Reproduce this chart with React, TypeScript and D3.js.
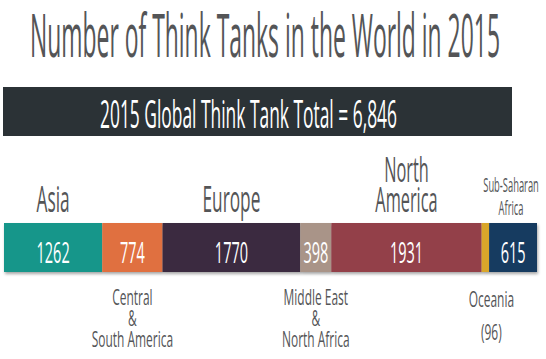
import React, {useEffect, useRef} from 'react';
import * as d3 from 'd3';

// regions in the order they sit on the bar
const regions: string[] = ["Asia", "Central & South America", "Europe", "Middle East & North Africa", "North America", "Oceania", "Sub-Saharan Africa"];
const counts: number[] = [1262, 774, 1770, 398, 1931, 96, 615];
const colors: string[] = ["#17968a", "#e0703f", "#3a2a40", "#a99488", "#93404a", "#d9a62a", "#163a60"];
// label lines, and whether they go above or below the bar
const labelLines: string[][] = [["Asia"], ["Central", "&", "South America"], ["Europe"], ["Middle East", "&", "North Africa"], ["North", "America"], ["Oceania", "(96)"], ["Sub-Saharan", "Africa"]];
const labelSide: string[] = ["above", "below", "above", "below", "above", "below", "above"];
const showValue: boolean[] = [true, true, true, true, true, false, true];

const title = "Number of Think Tanks in the World in 2015";
const total = d3.sum(counts);
const banner = `2015 Global Think Tank Total = ${d3.format(",")(total)}`;

const App = () => {
  const ref = useRef<SVGSVGElement>(null);

  useEffect(() => {
    drawChart();
    return () => {
      d3.select(ref.current).selectAll("*").remove();
    };
  }, []);

  const drawChart = () => {
    const width = 546;
    const height = 359;
    const font = "'Open Sans', 'DejaVu Sans Condensed', sans-serif";
    const gray = "#545557";

    const svg = d3.select(ref.current)
      .attr("width", width)
      .attr("height", height);

    // squeezed text, the original uses a condensed face we don't have
    const squeezed = (s: string, x: number, y: number, size: number, sx: number, fill: string, weight = 400) =>
      svg.append("text")
        .attr("x", x)
        .attr("y", y)
        .attr("text-anchor", "middle")
        .attr("font-family", font)
        .attr("font-size", size)
        .attr("font-weight", weight)
        .attr("fill", fill)
        .attr("transform-origin", `${x} ${y}`)
        .attr("transform", `scale(${sx},1)`)
        .text(s);

    // drop shadow for the bar
    const defs = svg.append("defs");
    defs.append("filter")
      .attr("id", "barShadow")
      .attr("x", "-5%").attr("y", "-20%")
      .attr("width", "110%").attr("height", "150%")
      .append("feDropShadow")
      .attr("dx", 1).attr("dy", 2)
      .attr("stdDeviation", 1.5)
      .attr("flood-color", "#000")
      .attr("flood-opacity", 0.35);

    // title
    svg.append("text")
      .attr("x", 30)
      .attr("y", 57)
      .attr("font-family", font)
      .attr("font-size", 60)
      .attr("fill", gray)
      .attr("textLength", 470)
      .attr("lengthAdjust", "spacingAndGlyphs")
      .text(title);

    // dark banner with the total
    svg.append("rect")
      .attr("x", 3).attr("y", 87)
      .attr("width", 509).attr("height", 49)
      .attr("fill", "#2b3236");

    svg.append("text")
      .attr("x", 100)
      .attr("y", 128)
      .attr("font-family", font)
      .attr("font-size", 38)
      .attr("fill", "white")
      .attr("textLength", 297)
      .attr("lengthAdjust", "spacingAndGlyphs")
      .text(banner);

    // the stacked bar
    const barTop = 223;
    const barHeight = 49;
    const x = d3.scaleLinear().domain([0, total]).range([4, 537]);
    const starts = d3.cumsum([0, ...counts]);

    const data = regions.map((r, i) => ({
      region: r,
      value: counts[i],
      start: starts[i],
      end: starts[i] + counts[i],
      color: colors[i],
      lines: labelLines[i],
      side: labelSide[i],
      showValue: showValue[i],
    }));

    const barG = svg.append("g").attr("filter", "url(#barShadow)");
    barG.selectAll("rect")
      .data(data)
      .enter().append("rect")
      .attr("x", d => x(d.start))
      .attr("y", barTop)
      .attr("width", d => x(d.end) - x(d.start))
      .attr("height", barHeight)
      .attr("fill", d => d.color);

    // values inside the bar
    data.filter(d => d.showValue).forEach(d => {
      squeezed(String(d.value), (x(d.start) + x(d.end)) / 2, barTop + 40, 29, 0.5, "white");
    });

    // region labels, above or below the bar
    data.forEach(d => {
      const cx = (x(d.start) + x(d.end)) / 2;
      d.lines.forEach((line, j) => {
        if (d.side === "above") {
          if (d.region === "Sub-Saharan Africa") {
            // the small one squeezed in at the right end
            squeezed(line, cx - 2, 215 - (d.lines.length - 1 - j) * 23, 19.5, 0.48, gray);
          } else {
            squeezed(line, cx, 212 - (d.lines.length - 1 - j) * 30, d.lines.length > 1 ? 34 : 36, 0.48, gray);
          }
        } else if (d.region === "Oceania") {
          squeezed(line, cx + 6, 307 + j * 33, 21, 0.57, gray);
        } else {
          squeezed(line, cx, 305 + j * 21, 21, 0.57, gray);
        }
      });
    });
  };

  return (
    <svg ref={ref} style={{position: "absolute", left: 0, top: 0, background: "white"}}></svg>
  );
};

export default App;
